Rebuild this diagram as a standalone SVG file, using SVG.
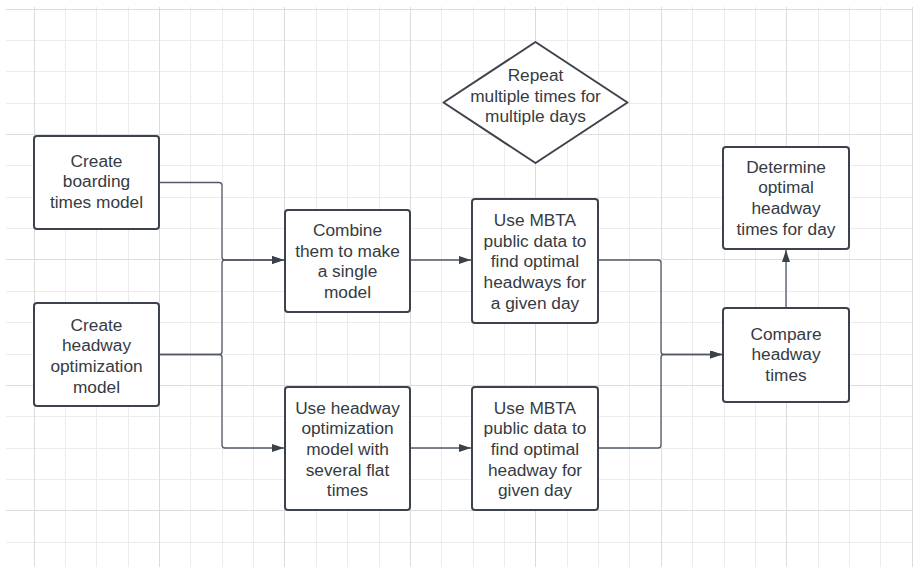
<svg xmlns="http://www.w3.org/2000/svg" width="919" height="567" viewBox="0 0 919 567">
<defs>
<style>
.gmin{stroke:#ececec;stroke-width:1;fill:none}
.gmaj{stroke:#dcdcdc;stroke-width:1;fill:none}
.box{fill:#ffffff;stroke:#3d434c;stroke-width:2}
.lbl{font-family:"Liberation Sans",Arial,sans-serif;font-size:17.3px;fill:#363b43;text-anchor:middle}
.con{fill:none;stroke:#525965;stroke-width:1.3}
</style>
<marker id="arr" markerUnits="userSpaceOnUse" markerWidth="13" markerHeight="9" refX="12" refY="4" orient="auto">
<path d="M0,0 L12,4 L0,8 Z" fill="#3a414a"/>
</marker>
</defs>
<rect x="0" y="0" width="919" height="567" fill="#ffffff"/>
<g id="grid">
<path class="gmin" d="M65.5,7V567M96.5,7V567M128.5,7V567M190.5,7V567M222.5,7V567M253.5,7V567M316.5,7V567M347.5,7V567M379.5,7V567M441.5,7V567M473.5,7V567M504.5,7V567M567.5,7V567M598.5,7V567M629.5,7V567M692.5,7V567M724.5,7V567M755.5,7V567M818.5,7V567M849.5,7V567M880.5,7V567M6,40.5H912M6,71.5H912M6,103.5H912M6,165.5H912M6,197.5H912M6,228.5H912M6,291.5H912M6,322.5H912M6,354.5H912M6,416.5H912M6,448.5H912M6,479.5H912M6,542.5H912"/>
<path class="gmaj" d="M34.5,7V567M159.5,7V567M284.5,7V567M410.5,7V567M535.5,7V567M661.5,7V567M786.5,7V567M912.5,7V567M6,9.5H912M6,134.5H912M6,259.5H912M6,385.5H912M6,510.5H912"/>
</g>
<g id="connectors">
<path class="con" marker-end="url(#arr)" d="M159,182.5H219Q222,182.5 222,185.5V257Q222,260 225,260H284"/>
<path class="con" marker-end="url(#arr)" d="M159,354.5H219Q222,354.5 222,351.5V263Q222,260 225,260H284"/>
<path class="con" marker-end="url(#arr)" d="M159,354.5H219Q222,354.5 222,357.5V445Q222,448 225,448H284"/>
<path class="con" marker-end="url(#arr)" d="M410,260H471"/>
<path class="con" marker-end="url(#arr)" d="M410,448H471"/>
<path class="con" marker-end="url(#arr)" d="M598,260H658Q661,260 661,263V351.5Q661,354.5 664,354.5H722"/>
<path class="con" marker-end="url(#arr)" d="M598,448H658Q661,448 661,445V357.5Q661,354.5 664,354.5H722"/>
<path class="con" marker-end="url(#arr)" d="M786,308V250"/>
</g>
<g id="n1">
<rect class="box" x="34" y="136" width="125" height="93" rx="3"/>
<text class="lbl"><tspan x="96.5" y="166.7">Create</tspan><tspan x="96.5" dy="20.7">boarding</tspan><tspan x="96.5" dy="20.7">times model</tspan></text>
</g>
<g id="n2">
<rect class="box" x="34" y="303" width="125" height="103" rx="3"/>
<text class="lbl"><tspan x="96.5" y="330.5">Create</tspan><tspan x="96.5" dy="20.7">headway</tspan><tspan x="96.5" dy="20.7">optimization</tspan><tspan x="96.5" dy="20.7">model</tspan></text>
</g>
<g id="n3">
<rect class="box" x="285" y="210" width="125" height="102" rx="3"/>
<text class="lbl"><tspan x="347.5" y="236">Combine</tspan><tspan x="347.5" dy="20.7">them to make</tspan><tspan x="347.5" dy="20.7">a single</tspan><tspan x="347.5" dy="20.7">model</tspan></text>
</g>
<g id="n4">
<rect class="box" x="285" y="387" width="125" height="123" rx="3"/>
<text class="lbl"><tspan x="347.5" y="413.5">Use headway</tspan><tspan x="347.5" dy="20.7">optimization</tspan><tspan x="347.5" dy="20.7">model with</tspan><tspan x="347.5" dy="20.7">several flat</tspan><tspan x="347.5" dy="20.7">times</tspan></text>
</g>
<g id="n5">
<rect class="box" x="472" y="199" width="126" height="124" rx="3"/>
<text class="lbl"><tspan x="535" y="226">Use MBTA</tspan><tspan x="535" dy="20.7">public data to</tspan><tspan x="535" dy="20.7">find optimal</tspan><tspan x="535" dy="20.7">headways for</tspan><tspan x="535" dy="20.7">a given day</tspan></text>
</g>
<g id="n6">
<rect class="box" x="472" y="387" width="126" height="123" rx="3"/>
<text class="lbl"><tspan x="535" y="413.5">Use MBTA</tspan><tspan x="535" dy="20.7">public data to</tspan><tspan x="535" dy="20.7">find optimal</tspan><tspan x="535" dy="20.7">headway for</tspan><tspan x="535" dy="20.7">given day</tspan></text>
</g>
<g id="n7">
<path class="box" stroke-linejoin="round" d="M535.5,42L627.5,102.5L535.5,163L443.5,102.5Z"/>
<text class="lbl"><tspan x="535.5" y="81">Repeat</tspan><tspan x="535.5" dy="20.7">multiple times for</tspan><tspan x="535.5" dy="20.7">multiple days</tspan></text>
</g>
<g id="n8">
<rect class="box" x="723" y="147" width="126" height="102" rx="3"/>
<text class="lbl"><tspan x="786" y="172.7">Determine</tspan><tspan x="786" dy="20.7">optimal</tspan><tspan x="786" dy="20.7">headway</tspan><tspan x="786" dy="20.7">times for day</tspan></text>
</g>
<g id="n9">
<rect class="box" x="723" y="308" width="126" height="94" rx="3"/>
<text class="lbl"><tspan x="786" y="339.5">Compare</tspan><tspan x="786" dy="20.7">headway</tspan><tspan x="786" dy="20.7">times</tspan></text>
</g>
</svg>
